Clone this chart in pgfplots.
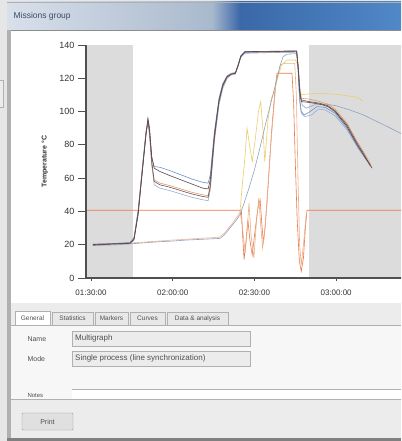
\documentclass[border=0pt]{standalone}
\usepackage{fontspec}
\setmainfont{Liberation Sans}
\usepackage{pgfplots}
\pgfplotsset{compat=1.18}

\definecolor{bggray}{HTML}{E6E6E6}
\definecolor{panelgray}{HTML}{ECECEC}
\definecolor{framegray}{HTML}{B0B0B0}
\definecolor{tbleft}{HTML}{D8E0EA}
\definecolor{tbmid}{HTML}{A9B9CD}
\definecolor{tbdark}{HTML}{3A68A8}
\definecolor{tbright}{HTML}{5088C8}
\definecolor{titletext}{HTML}{3C4C66}
\definecolor{uitext}{HTML}{505050}
\definecolor{axisgray}{HTML}{505050}
\definecolor{bandgray}{HTML}{DCDCDC}
\definecolor{cdark}{HTML}{5A4848}
\definecolor{cbrown}{HTML}{6E5252}
\definecolor{cblue}{HTML}{7090C8}
\definecolor{clblue}{HTML}{98ACD8}
\definecolor{corange}{HTML}{E59A6A}
\definecolor{cred}{HTML}{EE7846}
\definecolor{clorange}{HTML}{F0B890}
\definecolor{cyellow}{HTML}{E8CF6A}
\definecolor{cslate}{HTML}{8FA3C0}

\begin{document}
\begin{tikzpicture}
\path[use as bounding box] (0,0) rectangle (401pt,-441pt);
\clip (0,0) rectangle (401pt,-441pt);

% window chrome, drawn in screen pixels (y down)
\begin{scope}[x=1pt,y=-1pt]
  \fill[bggray] (0,0) rectangle (401,441);
  \draw[framegray,fill=panelgray] (-1,80) rectangle (3,107);
  \shade[left color=tbleft,right color=tbmid] (7,2) rectangle (212,30);
  \shade[left color=tbmid,right color=tbdark] (212,2) rectangle (240,30);
  \shade[left color=tbdark,right color=tbright] (240,2) rectangle (401,30);
  \draw[framegray] (7,2) -- (401,2);
  \node[anchor=west,text=titletext,font=\fontsize{8.5}{9}\selectfont] at (10,16) {Missions group};
  \draw[black!45] (7,30) -- (401,30);
  \fill[framegray] (7,30) rectangle (11,441);
  \fill[white] (11,31) rectangle (401,303);
  \fill[panelgray] (11,303) rectangle (401,441);
  % tabs
  \foreach \a/\b/\t in {52/93/Statistics,95/128/Markers,130/165/Curves,167/228/Data \& analysis}{
    \draw[framegray,fill=black!9] (\a,312) rectangle (\b,325);
    \node[text=uitext,font=\fontsize{6.5}{7}\selectfont] at ({(\a+\b)/2},318.5) {\t};
  }
  \fill[white!97!black] (11,325) rectangle (401,399);
  \draw[framegray] (11,325) -- (401,325);
  \draw[framegray,fill=white] (15,325) -- (15,311) -- (50,311) -- (50,325);
  \node[text=uitext,font=\fontsize{6.5}{7}\selectfont] at (32.5,318.5) {General};
  % fields
  \node[anchor=west,text=uitext,font=\fontsize{7}{8}\selectfont] at (24,339) {Name};
  \node[anchor=west,text=uitext,font=\fontsize{7}{8}\selectfont] at (24,359) {Mode};
  \draw[framegray,fill=panelgray] (72,331) rectangle (250,346);
  \draw[framegray,fill=panelgray] (72,351) rectangle (250,366);
  \node[anchor=west,text=uitext,font=\fontsize{8}{9}\selectfont,inner sep=1pt] at (74,338.5) {Multigraph};
  \node[anchor=west,text=uitext,font=\fontsize{8}{9}\selectfont,inner sep=1pt] at (74,358.5) {Single process (line synchronization)};
  \fill[white] (72,389) rectangle (401,399);
  \draw[framegray] (72,389) -- (401,389);
  \node[anchor=west,text=uitext,font=\fontsize{6}{7}\selectfont] at (24,395) {Notes};
  \fill[panelgray] (11,399) rectangle (401,438);
  \draw[framegray] (11,399) -- (401,399);
  % button
  \draw[black!40,fill=black!12,rounded corners=1] (22,413) rectangle (73,430);
  \node[text=black!70,font=\fontsize{7}{8}\selectfont] at (47.5,421.5) {Print};
  \fill[black!50] (7,438) rectangle (401,441);
\end{scope}

\begin{axis}[
  at={(86pt,-278pt)}, anchor=south west,
  scale only axis, width=337pt, height=233pt,
  xmin=88.16, xmax=211.9, ymin=0, ymax=140,
  axis x line*=bottom, axis y line*=left,
  axis line style={draw=axisgray,line width=1.2pt},
  axis on top,
  tick align=outside,
  major tick length=8pt,
  tick style={draw=axisgray,line width=0.9pt},
  xtick style={/pgfplots/major tick length=3pt},
  ytick={0,20,...,140},
  xtick={90,120,150,180},
  xticklabels={01:30:00,02:00:00,02:30:00,03:00:00},
  /pgf/number format/assume math mode=true,
  xticklabel style={font=\fontsize{8}{9}\selectfont,text=black!80},
  yticklabel style={font=\fontsize{9}{10}\selectfont,text=black!80},
  ylabel={Temperature °C},
  ylabel style={at={(axis description cs:-0.122,0.5)},anchor=center,
    font=\bfseries\fontsize{7}{8}\selectfont,text=black!80},
  every axis plot/.append style={line width=0.6pt,mark=none},
]
% shaded periods
\addplot[draw=none,fill=bandgray] coordinates {(88.16,140) (105.4,140)} \closedcycle;
\addplot[draw=none,fill=bandgray] coordinates {(170,140) (211.9,140)} \closedcycle;

% red process
\addplot[cred] coordinates {(88.16,40.7) (145.2,40.7) (145.7,25) (146.2,11) (146.9,22) (147.6,35) (148.4,22) (149.2,14) (150.2,28) (151.3,42) (152.1,47) (152.7,33) (153.3,21) (154,32) (155,55) (156.3,88) (157.5,112) (158.3,123) (163.8,123) (164.4,105) (165,70) (165.7,35) (166.5,10) (167.2,4) (168,12) (168.7,30) (169.3,40.7) (211.9,40.7)};
% orange process
\addplot[corange!80] coordinates {(144.7,40) (145.5,32) (146.6,15) (147.4,30) (148,45) (148.8,25) (149.8,12) (150.8,35) (151.6,48) (152.4,30) (153,18) (153.8,28) (154.6,45) (156,80) (157,100) (158,118) (159.5,128) (161,129) (164.8,129) (165.4,110) (166,60) (166.6,20) (167.2,8) (168,20) (169,38)};
% light orange process
\addplot[clorange] coordinates {(90.7,20.5) (104.3,21) (120,22.8) (130,23.8) (137,24.5) (139,27) (142,33) (144.7,39.5)};
% yellow process
\addplot[cyellow] coordinates {(144.7,39.5) (145.5,55) (146.5,72) (147.3,90) (148.2,80) (149.2,70) (150.2,82) (151.5,100) (152.3,106) (153.2,88) (153.8,70) (155,95) (156.2,108) (157.3,112) (158.5,120) (160,128) (162,131) (165,131) (166,128) (166.5,115) (167.2,110) (169,110.5) (175,111) (182,110) (188,108.5) (190,106)};
% slate process
\addplot[cslate] coordinates {(90.7,19.5) (100,20) (104.3,20.5) (110,21.2) (115,21.8) (120,22.2) (125,22.8) (130,23.2) (135,23.6) (137.4,23.8) (139,26) (141,30) (143,34) (144.7,38) (146,44) (148,54) (150,65) (152,78) (154,92) (156,105) (158,118) (159.5,128) (160.5,133) (162,134.5) (165.6,134.8) (166.2,125) (166.8,112) (167.5,104) (169,102) (172,104) (176,104.5) (180,103.5) (185,101) (190,98) (195,94) (200,90) (203,87.5) (210,82)};

% main bundle
\addplot[clblue] coordinates {(90.7,20.2) (97,20.6) (104.3,21.3) (105.8,24.5) (107.3,41) (108.8,66) (110.2,88) (110.9,93) (111.5,86) (112.3,68) (113.2,56) (115.3,54) (119,52.5) (123,50.5) (127,48.5) (131,47) (133,46.5) (133.8,53) (135.3,82) (137,104) (138.4,114) (140,120) (141.5,122) (143,122.5) (144,127) (145,132.5) (146.5,135) (155,135.4) (165.5,135.7) (166.1,122) (166.6,106) (167.2,99) (168.5,97) (171,98) (173.5,101.5) (176,101) (179.6,97.5) (184,89) (188,78) (191,71) (193,67)};
\addplot[corange] coordinates {(90.7,20) (97,20.4) (104.3,21) (105.8,24) (107.3,39) (108.8,64) (110.2,87) (110.9,93) (111.5,86) (112.3,68) (113.2,59) (115.3,57) (119,55.5) (123,53.5) (127,51.5) (131,50) (133,49.5) (133.8,56) (135.3,84) (137,106) (138.4,115) (140,120.5) (141.5,122.5) (143,123) (144,128) (145,133.5) (146.5,135.5) (155,135.6) (165.5,136) (166.1,127) (166.6,114) (167.2,108) (170,107.5) (174,106) (177,104.5) (179.6,101.5) (184,93) (187.7,82) (190,76) (192.8,68)};
\addplot[cblue] coordinates {(90.7,20.3) (97,20.6) (104.3,21.2) (105.8,24) (107.3,40) (108.8,65) (110.2,88) (110.9,94) (111.5,88) (112.3,72) (113.2,67) (115.3,66.5) (119,64.5) (123,62) (127,59.5) (131,57.5) (133,57) (133.8,62) (135.3,88) (137,108) (138.4,117) (140,121.5) (141.5,123) (143,123.5) (144,128) (145,133) (146.5,135.5) (155,135.8) (165.5,136) (166.1,124) (166.6,108) (167.2,100) (168.3,98) (170,99.5) (173,103) (176,102.5) (179.6,99) (184,90) (188,79) (190.5,73) (192.5,68)};
\addplot[cbrown] coordinates {(90.7,20.1) (97,20.5) (104.3,21) (105.8,23.5) (107.3,39) (108.8,64) (110.2,87) (110.9,95) (111.5,88) (112.3,70) (113.2,58) (115.3,56) (119,54.5) (123,52.5) (127,50.5) (131,49) (133,48.5) (133.8,55) (135.3,84) (137,106) (138.4,115.5) (140,121) (141.5,122.5) (143,123) (144,128) (145,133.5) (146.5,136) (155,136) (165.5,136.3) (166.1,126) (166.6,113) (167.2,107) (170,106) (174,105) (177,103.5) (179.6,100.5) (184,92) (187.7,81) (190,75) (192.5,67.5)};
\addplot[cdark] coordinates {(90.7,19.8) (97,20.3) (104.3,20.8) (105.8,23) (107.3,38) (108.8,63) (110.2,86) (110.9,96) (111.5,90) (112.3,73) (113.2,66) (115.3,64) (119,61.5) (123,59) (127,56.5) (131,54) (133,53.5) (133.8,59) (135.3,86) (137,107) (138.4,116) (140,121) (141.5,122.5) (143,123) (144,127.5) (145,133) (146.5,136) (155,136.2) (165.5,136.5) (166.1,126) (166.6,112) (167.2,106) (170,105.5) (174,104.5) (177,103) (179.6,100) (184,91) (187.7,80) (190,74) (193.2,66)};
\end{axis}
\end{tikzpicture}
\end{document}
